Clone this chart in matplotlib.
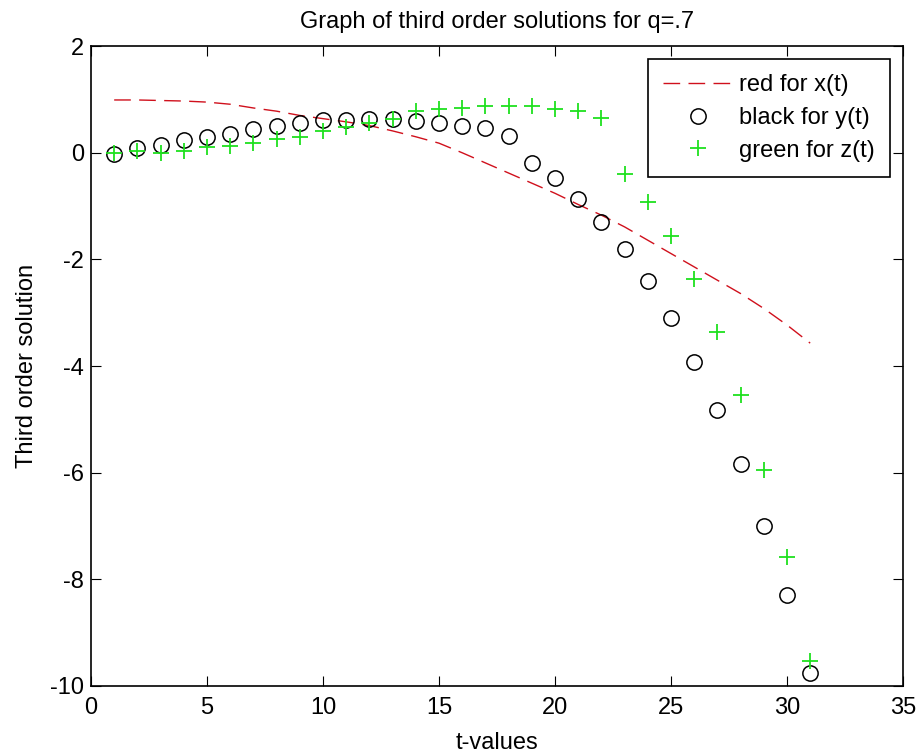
import numpy as np
import matplotlib
matplotlib.use('Agg')
from matplotlib import pyplot as plt

plt.rcParams['font.family'] = ['Liberation Sans', 'DejaVu Sans']
plt.rcParams['axes.unicode_minus'] = False

t = np.arange(1, 32)

# x(t) - red dashed
x_vals = [0.99, 0.99, 0.98, 0.97, 0.95, 0.91, 0.84, 0.78, 0.70, 0.64,
          0.58, 0.51, 0.41, 0.30, 0.18, 0.00, -0.19, -0.38, -0.57, -0.76,
          -0.97, -1.17, -1.39, -1.64, -1.89, -2.14, -2.39, -2.64, -2.92, -3.23,
          -3.57]
# y(t) - black circles
y_vals = [-0.02, 0.08, 0.14, 0.24, 0.29, 0.36, 0.44, 0.50, 0.55, 0.61,
          0.61, 0.63, 0.64, 0.59, 0.55, 0.50, 0.46, 0.32, -0.20, -0.48,
          -0.87, -1.29, -1.81, -2.40, -3.10, -3.92, -4.82, -5.84, -7.00, -8.29,
          -9.76]
# z(t) - green plus
z_vals = [0.00, 0.04, 0.00, 0.03, 0.10, 0.13, 0.18, 0.25, 0.30, 0.41,
          0.48, 0.55, 0.64, 0.79, 0.82, 0.84, 0.88, 0.88, 0.88, 0.83,
          0.78, 0.66, -0.39, -0.92, -1.57, -2.36, -3.36, -4.54, -5.95, -7.59,
          -9.54]

fs = 17

fig = plt.figure(figsize=(9.17, 7.56), dpi=100)
ax = fig.add_axes([0.0992, 0.0926, 0.8855, 0.8464])

ax.plot(t, x_vals, '--', color='#d0101c', lw=1.0, dashes=(12, 6), label='red for x(t)')
ax.plot(t, y_vals, 'o', mfc='none', mec='black', ms=11, mew=1.1, label='black for y(t)')
ax.plot(t, z_vals, '+', color='#1fe01f', ms=12, mew=1.3, label='green for z(t)')

ax.set_xlim(0, 35)
ax.set_ylim(-10, 2)
ax.set_xticks(range(0, 36, 5))
ax.set_yticks(range(-10, 3, 2))
ax.tick_params(direction='in', top=True, right=True, labelsize=fs, length=7)
ax.tick_params(axis='x', pad=8)
ax.tick_params(axis='y', pad=5)
for s in ax.spines.values():
    s.set_linewidth(1.2)

ax.set_title('Graph of third order solutions for q=.7', fontsize=fs, pad=13)
ax.set_xlabel('t-values', fontsize=fs, labelpad=9)
ax.set_ylabel('Third order solution', fontsize=fs, labelpad=9)

leg = ax.legend(loc='upper right', fontsize=fs, fancybox=False, framealpha=1,
                edgecolor='black', borderaxespad=0.55, handlelength=2.9,
                handletextpad=0.3, labelspacing=0.45, borderpad=0.65)
leg.get_frame().set_linewidth(1.2)

fig.savefig('out.png', dpi=100)
